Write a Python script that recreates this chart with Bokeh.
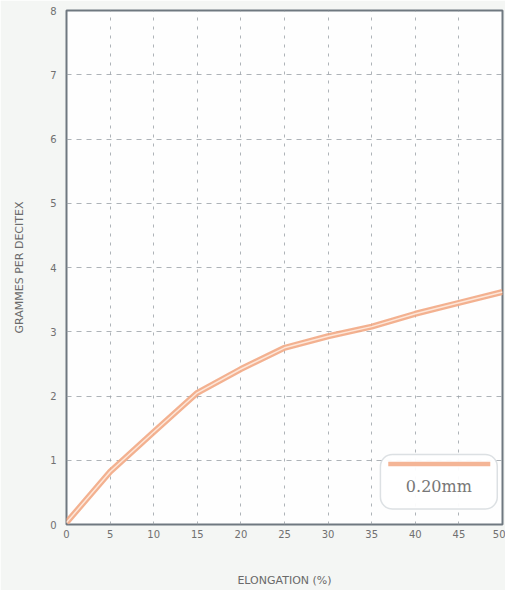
from bokeh.plotting import figure
from bokeh.models import Range1d, FixedTicker, BoxAnnotation, Label
from bokeh.embed import file_html
from bokeh.resources import INLINE

elongation = [0, 5, 10, 15, 20, 25, 30, 35, 40, 45, 50]
grammes = [0.03, 0.82, 1.44, 2.05, 2.42, 2.75, 2.93, 3.08, 3.28, 3.45, 3.62]
x_ticks = [0, 5, 10, 15, 20, 25, 30, 35, 40, 45, 50]
y_ticks = [0, 1, 2, 3, 4, 5, 6, 7, 8]
series_label = "0.20mm"
x_title = "ELONGATION (%)"
y_title = "GRAMMES PER DECITEX"

p = figure(frame_width=436, frame_height=514, output_backend="svg",
           toolbar_location=None, x_range=Range1d(0, 50), y_range=Range1d(0, 8),
           min_border_left=66, min_border_right=3, min_border_top=10, min_border_bottom=66)

p.background_fill_color = "#fefefe"
p.border_fill_color = "#f4f6f4"
p.outline_line_color = "#6f7880"
p.outline_line_width = 2

for ax in (p.xaxis, p.yaxis):
    ax.axis_line_color = None
    ax.major_tick_line_color = None
    ax.minor_tick_line_color = None
    ax.major_tick_out = 0
    ax.major_tick_in = 0
    ax.minor_tick_out = 0
    ax.major_label_text_font = "DejaVu Sans"
    ax.major_label_text_font_size = "10px"
    ax.major_label_text_color = "#707070"
    ax.axis_label_text_font = "DejaVu Sans"
    ax.axis_label_text_font_size = "11px"
    ax.axis_label_text_font_style = "normal"
    ax.axis_label_text_color = "#6a6a6a"

p.xaxis.ticker = FixedTicker(ticks=x_ticks)
p.yaxis.ticker = FixedTicker(ticks=y_ticks)
p.xaxis.major_label_standoff = 5
p.yaxis.major_label_standoff = 10
p.xaxis.axis_label = x_title
p.yaxis.axis_label = y_title
p.xaxis.axis_label_standoff = 33
p.yaxis.axis_label_standoff = 21

for g in (p.xgrid, p.ygrid):
    g.grid_line_color = "#9aa0a6"
    g.grid_line_dash = "5 5"
    g.grid_line_width = 1
    g.grid_line_alpha = 0.8
p.xgrid.grid_line_dash = "3 6"

p.line(elongation, grammes, line_color="#f2a884", line_width=6, line_alpha=0.9)
p.line(elongation, grammes, line_color="#fde6d8", line_width=1.5)

legend_box = BoxAnnotation(left=36.0, right=49.4, bottom=0.24, top=1.09,
                           fill_color="white", fill_alpha=0.95,
                           line_color="#8e9ba6", line_width=1.5, border_radius=12)
p.add_layout(legend_box)
sample = BoxAnnotation(left=36.9, right=48.6, bottom=0.905, top=0.975,
                       fill_color="#f4b596", fill_alpha=1, line_color=None)
p.add_layout(sample)
p.add_layout(Label(x=42.7, y=0.45, text=series_label, text_align="center",
                   text_font="DejaVu Serif", text_font_size="16px", text_color="#777777"))

open("out.html", "w").write(file_html(p, INLINE))
